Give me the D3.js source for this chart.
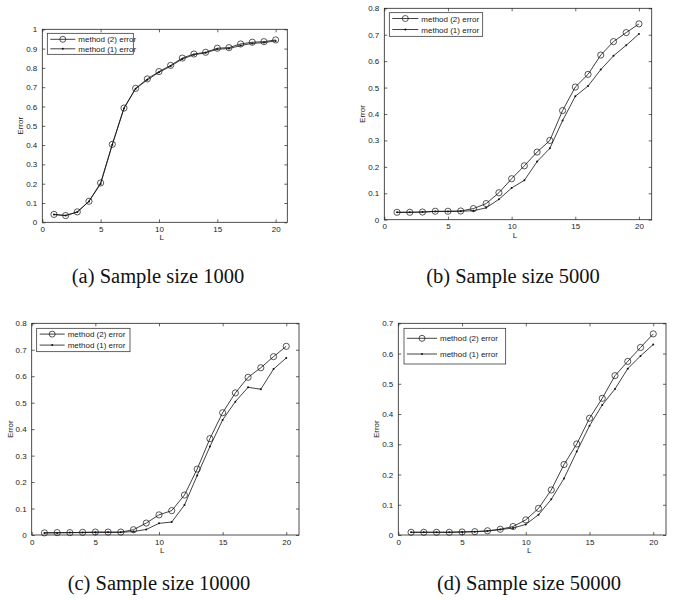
<!DOCTYPE html>
<html>
<head>
<meta charset="utf-8">
<script src="https://cdn.jsdelivr.net/npm/d3@7/dist/d3.min.js"></script>
<style>
body { margin: 0; background: #fff; }
</style>
</head>
<body>
<svg id="chart"></svg>
<script>
// L values on the x axis
var lVals = [1,2,3,4,5,6,7,8,9,10,11,12,13,14,15,16,17,18,19,20];

// sample size 1000
var errA2 = [0.041,0.035,0.054,0.109,0.204,0.404,0.592,0.694,0.743,0.781,0.813,0.851,0.872,0.881,0.902,0.905,0.924,0.933,0.936,0.945];
var errA1 = [0.040,0.035,0.053,0.108,0.199,0.402,0.590,0.692,0.738,0.777,0.809,0.846,0.868,0.878,0.897,0.900,0.916,0.927,0.931,0.940];
// sample size 5000
var errB2 = [0.028,0.028,0.029,0.032,0.032,0.033,0.042,0.061,0.102,0.155,0.204,0.256,0.300,0.413,0.502,0.550,0.623,0.674,0.708,0.741];
var errB1 = [0.028,0.028,0.029,0.031,0.031,0.032,0.034,0.045,0.077,0.120,0.149,0.220,0.270,0.375,0.467,0.506,0.568,0.620,0.660,0.703];
// sample size 10000
var errC2 = [0.008,0.009,0.009,0.010,0.011,0.011,0.011,0.020,0.045,0.076,0.092,0.151,0.249,0.364,0.462,0.537,0.596,0.632,0.674,0.713];
var errC1 = [0.008,0.008,0.009,0.009,0.010,0.010,0.010,0.013,0.021,0.044,0.049,0.113,0.225,0.334,0.435,0.504,0.558,0.551,0.627,0.669];
// sample size 50000
var errD2 = [0.009,0.009,0.009,0.009,0.010,0.011,0.014,0.019,0.028,0.050,0.088,0.149,0.233,0.301,0.386,0.452,0.527,0.574,0.620,0.665];
var errD1 = [0.009,0.009,0.009,0.009,0.010,0.011,0.013,0.018,0.023,0.035,0.067,0.118,0.187,0.276,0.361,0.430,0.483,0.550,0.592,0.630];

var captions = ["(a) Sample size 1000", "(b) Sample size 5000", "(c) Sample size 10000", "(d) Sample size 50000"];
var yMaxes = [1, 0.8, 0.8, 0.7];
var xTicks = [0, 5, 10, 15, 20];
var legendNames = ["method (2) error", "method (1) error"];

var svgWidth = 673, svgHeight = 603;
var svg = d3.select("#chart").attr("width", svgWidth).attr("height", svgHeight);

// layout of each panel (pixel boxes)
var panels = [
  { l: 42.3, r: 287.3, t: 29.3, b: 222.3, s2: errA2, s1: errA1, cx: 158, cy: 283,
    leg: { dx: 5, dy: 4, w: 86, h: 21, row1: 6, gap: 9.5, line: 25 } },
  { l: 384.3, r: 651.7, t: 8.3, b: 219.7, s2: errB2, s1: errB1, cx: 513, cy: 283,
    leg: { dx: 5, dy: 4.4, w: 93.4, h: 23.6, row1: 5.8, gap: 11, line: 26 } },
  { l: 31.7, r: 299, t: 323.3, b: 535, s2: errC2, s1: errC1, cx: 159, cy: 590,
    leg: { dx: 5, dy: 5, w: 93.3, h: 23.4, row1: 5.8, gap: 11, line: 25 } },
  { l: 398.3, r: 666, t: 323.3, b: 535, s2: errD2, s1: errD1, cx: 529, cy: 590,
    leg: { dx: 5.7, dy: 5, w: 101.7, h: 35.7, row1: 10, gap: 15.7, line: 30 } }
];

var fmt = function(d) { return String(+d.toFixed(1)); };

panels.forEach(function(p, i) {
  var x = d3.scaleLinear().domain([0, 21]).range([p.l, p.r]);
  var y = d3.scaleLinear().domain([0, yMaxes[i]]).range([p.b, p.t]);
  var yTicks = d3.range(0, Math.round(yMaxes[i] * 10) + 1).map(function(k) { return k / 10; });

  var g = svg.append("g");

  g.append("rect")
    .attr("x", p.l).attr("y", p.t)
    .attr("width", p.r - p.l).attr("height", p.b - p.t)
    .attr("fill", "#fff").attr("stroke", "#222").attr("stroke-width", 0.8);

  var styleAxis = function(sel) {
    sel.select(".domain").remove();
    sel.selectAll("line").attr("stroke", "#222").attr("stroke-width", 0.7);
    sel.selectAll("text").attr("fill", "#222")
      .style("font-family", "'Liberation Sans', Arial, sans-serif").style("font-size", "8px");
  };

  g.append("g").attr("transform", "translate(0," + p.b + ")")
    .call(d3.axisBottom(x).tickValues(xTicks).tickSizeInner(-3).tickSizeOuter(0).tickPadding(4).tickFormat(fmt))
    .call(styleAxis);
  g.append("g").attr("transform", "translate(0," + p.t + ")")
    .call(d3.axisTop(x).tickValues(xTicks).tickSizeInner(-3).tickSizeOuter(0).tickFormat(""))
    .call(styleAxis);
  g.append("g").attr("transform", "translate(" + p.l + ",0)")
    .call(d3.axisLeft(y).tickValues(yTicks).tickSizeInner(-3).tickSizeOuter(0).tickPadding(5).tickFormat(fmt))
    .call(styleAxis);
  g.append("g").attr("transform", "translate(" + p.r + ",0)")
    .call(d3.axisRight(y).tickValues(yTicks).tickSizeInner(-3).tickSizeOuter(0).tickFormat(""))
    .call(styleAxis);

  // axis titles
  g.append("text")
    .attr("x", (p.l + p.r) / 2 - 3).attr("y", p.b + 18)
    .attr("text-anchor", "middle").attr("fill", "#222")
    .style("font-family", "'Liberation Sans', Arial, sans-serif").style("font-size", "8px")
    .text("L");
  g.append("text")
    .attr("transform", "translate(" + (p.l - 19) + "," + ((p.t + p.b) / 2) + ") rotate(-90)")
    .attr("text-anchor", "middle").attr("fill", "#222")
    .style("font-family", "'Liberation Sans', Arial, sans-serif").style("font-size", "8px")
    .text("Error");

  var line = d3.line()
    .x(function(d, k) { return x(lVals[k]); })
    .y(function(d) { return y(d); });

  g.append("path").datum(p.s1)
    .attr("fill", "none").attr("stroke", "#111").attr("stroke-width", 0.8)
    .attr("d", line);
  g.append("path").datum(p.s2)
    .attr("fill", "none").attr("stroke", "#111").attr("stroke-width", 0.8)
    .attr("d", line);

  g.selectAll(".dot").data(p.s1).enter().append("circle")
    .attr("cx", function(d, k) { return x(lVals[k]); })
    .attr("cy", function(d) { return y(d); })
    .attr("r", 1).attr("fill", "#111");
  g.selectAll(".circ").data(p.s2).enter().append("circle")
    .attr("cx", function(d, k) { return x(lVals[k]); })
    .attr("cy", function(d) { return y(d); })
    .attr("r", 3.1).attr("fill", "none").attr("stroke", "#111").attr("stroke-width", 0.7);

  // legend
  var lg = p.leg;
  var lx = p.l + lg.dx, ly = p.t + lg.dy;
  g.append("rect")
    .attr("x", lx).attr("y", ly).attr("width", lg.w).attr("height", lg.h)
    .attr("fill", "#fff").attr("stroke", "#222").attr("stroke-width", 0.7);
  legendNames.forEach(function(name, k) {
    var ry = ly + lg.row1 + k * lg.gap;
    var x0 = lx + 3, x1 = x0 + lg.line;
    g.append("line").attr("x1", x0).attr("x2", x1).attr("y1", ry).attr("y2", ry)
      .attr("stroke", "#111").attr("stroke-width", 0.8);
    if (k === 0) {
      g.append("circle").attr("cx", (x0 + x1) / 2).attr("cy", ry).attr("r", 3)
        .attr("fill", "none").attr("stroke", "#111").attr("stroke-width", 0.7);
    } else {
      g.append("circle").attr("cx", (x0 + x1) / 2).attr("cy", ry).attr("r", 1).attr("fill", "#111");
    }
    g.append("text").attr("x", x1 + 3).attr("y", ry + 3)
      .attr("fill", "#222")
      .style("font-family", "'Liberation Sans', Arial, sans-serif").style("font-size", "8px")
      .text(name);
  });

  // caption
  svg.append("text")
    .attr("x", p.cx).attr("y", p.cy)
    .attr("text-anchor", "middle").attr("fill", "#111")
    .style("font-family", "'Liberation Serif', 'Times New Roman', serif").style("font-size", "20.5px")
    .text(captions[i]);
});
</script>
</body>
</html>
